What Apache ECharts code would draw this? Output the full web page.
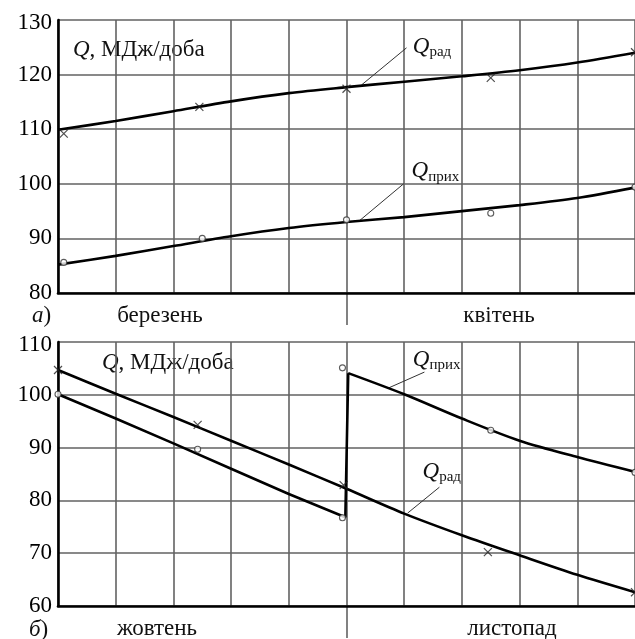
<!DOCTYPE html>
<html>
<head>
<meta charset="utf-8">
<script src="https://cdn.jsdelivr.net/npm/echarts@6/dist/echarts.min.js"></script>
<style>
html,body{margin:0;padding:0;background:#fff;}
#c{width:635px;height:639px;}
</style>
</head>
<body>
<div id="c"></div>
<script>
// ---- data (x in grid divisions: 0..5 = first month, 5..10 = second month) ----
const xDiv = [0, 1, 2, 3, 4, 5, 6, 7, 8, 9, 10];
const monthsTop = ['березень', 'квітень'];
const monthsBot = ['жовтень', 'листопад'];
const yTicksTop = [80, 130, 10];
const yTicksBot = [60, 110, 10];

// panel a)
const topRad = [109.9, 111.5, 113.3, 115.1, 116.6, 117.7, 118.7, 119.7, 120.8, 122.2, 124.0];
const topPrih = [85.2, 86.8, 88.6, 90.4, 91.9, 93.0, 93.9, 95.0, 96.1, 97.4, 99.3];
const topRadMarkX = [0.1, 2.45, 5.0, 7.5, 10.0];
const topRadMarkY = [109.2, 114.1, 117.4, 119.4, 124.1];
const topPrihMarkX = [0.1, 2.5, 5.0, 7.5, 10.0];
const topPrihMarkY = [85.6, 90.0, 93.4, 94.6, 99.4];

// panel б)
const botRad = [104.7, 100.2, 95.8, 91.3, 86.8, 82.2, 77.5, 73.4, 69.6, 65.9, 62.6];
const botPrihX = [0, 1, 2, 3, 4, 4.98, 5.03, 6, 7, 8, 9, 10];
const botPrihY = [100.1, 95.5, 90.8, 86.0, 81.2, 76.8, 104.1, 100.1, 95.5, 91.3, 88.2, 85.4];
const botRadMarkX = [0.0, 2.42, 4.95, 7.45, 10.0];
const botRadMarkY = [104.7, 94.3, 82.9, 70.2, 62.6];
const botPrihMarkX = [0.0, 2.42, 4.93, 4.93, 7.5, 10.0];
const botPrihMarkY = [100.1, 89.7, 76.7, 105.1, 93.3, 85.3];

// annotation anchors (data units): label point, leader start, leader end
const annTopRad = {label: [6.14, 125.1], from: [6.04, 124.9], to: [5.26, 118.1], sub: 'рад'};
const annTopPrih = {label: [6.12, 102.3], from: [5.99, 100.0], to: [5.22, 93.2], sub: 'прих'};
const annBotPrih = {label: [6.14, 106.6], from: [6.35, 104.3], to: [5.73, 101.3], sub: 'прих'};
const annBotRad = {label: [6.31, 85.4], from: [6.61, 82.5], to: [6.06, 77.6], sub: 'рад'};

// ---- styling ----
const FONT = 'Liberation Serif';
const GRID_C = '#626262';
const sepIdx = xDiv.indexOf(5);
const crossPath = 'path://M0,0L10,10M10,0L0,10';
const jumpIdx = botPrihX.indexOf(5.03);

function zip(xs, ys) { return xs.map((x, i) => [x, ys[i]]); }

function ann(a) {
  return {
    markPoint: {
      silent: true,
      symbol: 'circle', symbolSize: 1,
      itemStyle: {color: 'rgba(0,0,0,0)'},
      label: {
        show: true, position: 'right', distance: 0,
        formatter: '{q|Q}{s|' + a.sub + '}',
        rich: {
          q: {fontFamily: FONT, fontSize: 23, fontStyle: 'italic', color: '#111', lineHeight: 26},
          s: {fontFamily: FONT, fontSize: 15, color: '#111', lineHeight: 16, verticalAlign: 'bottom'}
        }
      },
      data: [{coord: a.label}]
    },
    markLine: {
      silent: true, symbol: ['none', 'none'],
      label: {show: false},
      lineStyle: {color: '#333', width: 1, type: 'solid'},
      emphasis: {disabled: true},
      data: [[{coord: a.from}, {coord: a.to}]]
    }
  };
}

function lineSeries(xi, yi, data, a, smooth) {
  return Object.assign({
    type: 'line', xAxisIndex: xi, yAxisIndex: yi, data: data,
    showSymbol: false, symbol: 'none',
    smooth: smooth ? 0.3 : false,
    lineStyle: {color: '#000', width: 2.6}, z: 5
  }, a ? ann(a) : {});
}
function crossSeries(xi, yi, data) {
  return {type: 'scatter', xAxisIndex: xi, yAxisIndex: yi, data: data,
    symbol: crossPath, symbolSize: 8,
    itemStyle: {color: 'rgba(0,0,0,0)', borderColor: '#222', borderWidth: 1.2}, z: 6};
}
function circleSeries(xi, yi, data) {
  return {type: 'scatter', xAxisIndex: xi, yAxisIndex: yi, data: data,
    symbol: 'circle', symbolSize: 6,
    itemStyle: {color: '#fff', borderColor: '#333', borderWidth: 1.1}, z: 6};
}

function valueX(gi) {
  return {type: 'value', gridIndex: gi, min: 0, max: 10, interval: 1,
    axisLine: {show: true, onZero: false, lineStyle: {color: '#000', width: 2.6}},
    axisTick: {show: false}, axisLabel: {show: false},
    splitLine: {show: true, lineStyle: {color: GRID_C, width: 1.6}}, z: 3};
}
function sepX(gi) {
  return {type: 'category', gridIndex: gi, data: xDiv.map(String), boundaryGap: false,
    position: 'bottom',
    axisLine: {show: false},
    axisTick: {show: true, inside: false, length: 32, interval: (i) => i === sepIdx,
      lineStyle: {color: GRID_C, width: 1.6}},
    axisLabel: {show: false}, splitLine: {show: false}};
}
function valueY(gi, t) {
  return {type: 'value', gridIndex: gi, min: t[0], max: t[1], interval: t[2],
    axisLine: {show: true, lineStyle: {color: '#000', width: 2.6}},
    axisTick: {show: false},
    axisLabel: {color: '#000', fontFamily: FONT, fontSize: 23, margin: 6,
      formatter: (v) => (v === t[1] ? '{top|' + v + '}' : String(v)),
      rich: {top: {color: '#000', fontFamily: FONT, fontSize: 23, padding: [6, 0, 0, 0]}}},
    splitLine: {show: true, lineStyle: {color: GRID_C, width: 1.6}}, z: 3};
}

function txt(text, x, y, italic, align) {
  return {type: 'text', x: x, y: y, silent: true,
    style: {text: text, fill: '#111', font: (italic ? 'italic ' : '') + '23px "' + FONT + '"',
      textAlign: align || 'center', textVerticalAlign: 'middle'}};
}
function qUnit(x, y) {
  return {type: 'text', x: x, y: y, silent: true,
    style: {text: '{q|Q}{n|, МДж/доба}', textAlign: 'left', textVerticalAlign: 'middle',
      rich: {q: {font: 'italic 23px "' + FONT + '"', fill: '#111'},
             n: {font: '23px "' + FONT + '"', fill: '#111'}}}};
}
function panelTag(letter, x, y) {
  return {type: 'text', x: x, y: y, silent: true,
    style: {text: '{i|' + letter + '}{n|)}', textAlign: 'left', textVerticalAlign: 'middle',
      rich: {i: {font: 'italic 23px "' + FONT + '"', fill: '#111'},
             n: {font: '23px "' + FONT + '"', fill: '#111'}}}};
}

const chart = echarts.init(document.getElementById('c'), null, {renderer: 'canvas'});
chart.setOption({
  animation: false,
  backgroundColor: '#fff',
  grid: [
    {left: 58, top: 20, width: 578, height: 273, containLabel: false},
    {left: 58, top: 342, width: 578, height: 264, containLabel: false}
  ],
  xAxis: [valueX(0), valueX(1), sepX(0), sepX(1)],
  yAxis: [valueY(0, yTicksTop), valueY(1, yTicksBot)],
  series: [
    lineSeries(0, 0, zip(xDiv, topRad), annTopRad, true),
    lineSeries(0, 0, zip(xDiv, topPrih), annTopPrih, true),
    crossSeries(0, 0, zip(topRadMarkX, topRadMarkY)),
    circleSeries(0, 0, zip(topPrihMarkX, topPrihMarkY)),
    lineSeries(1, 1, zip(xDiv, botRad), annBotRad, true),
    lineSeries(1, 1, zip(botPrihX, botPrihY).slice(0, jumpIdx + 1), null, false),
    lineSeries(1, 1, zip(botPrihX, botPrihY).slice(jumpIdx), annBotPrih, true),
    crossSeries(1, 1, zip(botRadMarkX, botRadMarkY)),
    circleSeries(1, 1, zip(botPrihMarkX, botPrihMarkY))
  ],
  graphic: [
    qUnit(73, 50),
    qUnit(102, 363),
    txt(monthsTop[0], 160, 316),
    txt(monthsTop[1], 499, 316),
    txt(monthsBot[0], 157, 629),
    txt(monthsBot[1], 512, 629),
    panelTag('а', 32, 316),
    panelTag('б', 29, 630)
  ]
});
</script>
</body>
</html>
